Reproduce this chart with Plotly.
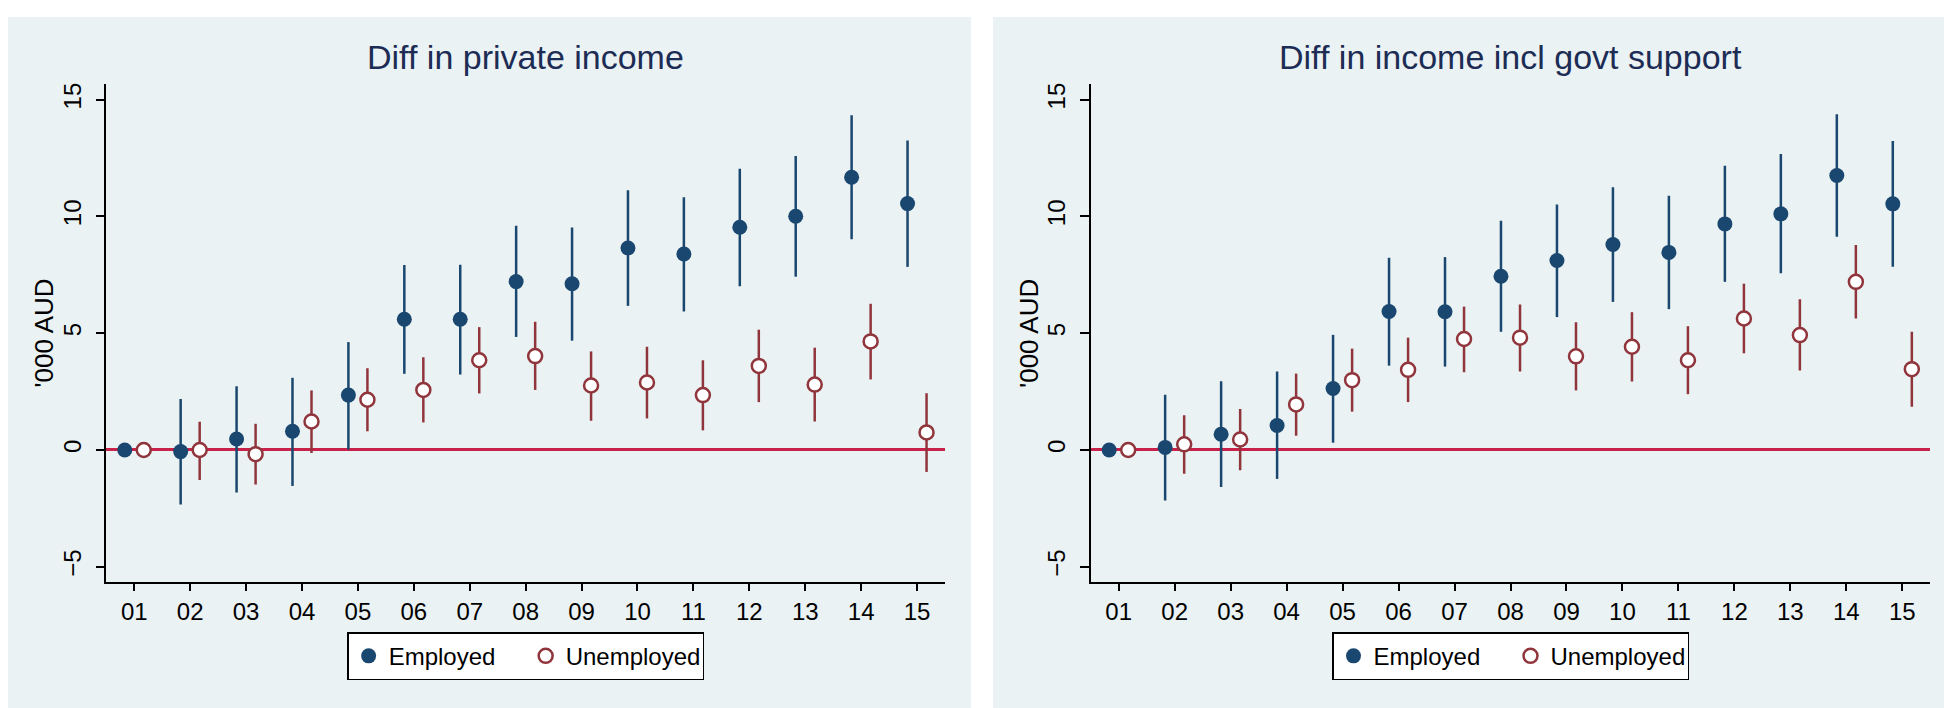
import plotly.graph_objects as go

# survey wave labels
waves = ["01", "02", "03", "04", "05", "06", "07", "08", "09", "10", "11", "12", "13", "14", "15"]

# Panel 1: Diff in private income ('000 AUD)
priv_emp = [0.0, -0.07, 0.47, 0.80, 2.35, 5.60, 5.60, 7.21, 7.12, 8.65, 8.39, 9.54, 10.01, 11.68, 10.55]
priv_emp_lo = [0.0, -2.33, -1.82, -1.54, 0.02, 3.26, 3.23, 4.84, 4.68, 6.17, 5.93, 7.01, 7.42, 9.02, 7.84]
priv_emp_hi = [0.0, 2.18, 2.73, 3.09, 4.62, 7.92, 7.93, 9.60, 9.53, 11.12, 10.82, 12.04, 12.59, 14.33, 13.25]
priv_unemp = [0.0, 0.0, -0.18, 1.22, 2.15, 2.57, 3.84, 4.02, 2.76, 2.89, 2.35, 3.60, 2.80, 4.65, 0.75]
priv_unemp_lo = [0.0, -1.29, -1.48, -0.13, 0.80, 1.18, 2.42, 2.57, 1.25, 1.35, 0.84, 2.05, 1.22, 3.02, -0.94]
priv_unemp_hi = [0.0, 1.21, 1.12, 2.55, 3.50, 3.97, 5.26, 5.49, 4.22, 4.42, 3.84, 5.15, 4.38, 6.26, 2.43]

# Panel 2: Diff in income incl govt support ('000 AUD)
tot_emp = [0.0, 0.11, 0.67, 1.05, 2.63, 5.93, 5.92, 7.44, 8.11, 8.80, 8.46, 9.68, 10.11, 11.75, 10.54]
tot_emp_lo = [0.0, -2.16, -1.59, -1.24, 0.31, 3.61, 3.57, 5.06, 5.69, 6.34, 6.03, 7.20, 7.57, 9.13, 7.85]
tot_emp_hi = [0.0, 2.36, 2.94, 3.36, 4.93, 8.23, 8.26, 9.81, 10.51, 11.25, 10.89, 12.17, 12.67, 14.38, 13.23]
tot_unemp = [0.0, 0.24, 0.45, 1.95, 2.99, 3.43, 4.75, 4.81, 4.01, 4.42, 3.84, 5.63, 4.92, 7.20, 3.46]
tot_unemp_lo = [0.0, -1.02, -0.87, 0.61, 1.64, 2.05, 3.33, 3.36, 2.55, 2.93, 2.39, 4.14, 3.40, 5.63, 1.85]
tot_unemp_hi = [0.0, 1.49, 1.75, 3.27, 4.34, 4.81, 6.14, 6.23, 5.47, 5.90, 5.30, 7.12, 6.45, 8.78, 5.06]

titles = ["Diff in private income", "Diff in income incl govt support"]
ytitle = "'000 AUD"

NAVY = "#1a476f"
MAROON = "#90353b"
BG = "#eaf2f3"
ZERO = "#c8224a"
FONT = "Liberation Sans, Arial, Helvetica, sans-serif"

W, H = 1952, 708
OFF = 0.17

xpos = list(range(1, len(waves) + 1))

# pixel layout of the two panels
x_doms = [[98.3 / W, 937 / W], [1082.7 / W, 1922.3 / W]]
y_dom = [1 - 573.3 / H, 1 - 74.7 / H]
panels = [[0, 963 / W], [985 / W, 1]]

panel_data = [
    (priv_emp, priv_emp_lo, priv_emp_hi, priv_unemp, priv_unemp_lo, priv_unemp_hi),
    (tot_emp, tot_emp_lo, tot_emp_hi, tot_unemp, tot_unemp_lo, tot_unemp_hi),
]

fig = go.Figure()

for i, (e, elo, ehi, u, ulo, uhi) in enumerate(panel_data):
    xa = "x" if i == 0 else "x2"
    ya = "y" if i == 0 else "y2"
    lg = "legend" if i == 0 else "legend2"
    fig.add_trace(go.Scatter(
        x=[p - OFF for p in xpos], y=e, xaxis=xa, yaxis=ya,
        mode="markers", name="Employed", legend=lg,
        marker=dict(symbol="circle", size=15, color=NAVY),
        error_y=dict(type="data", symmetric=False,
                     array=[h - v for h, v in zip(ehi, e)],
                     arrayminus=[v - l for v, l in zip(e, elo)],
                     width=0, thickness=2.5, color=NAVY),
    ))
    fig.add_trace(go.Scatter(
        x=[p + OFF for p in xpos], y=u, xaxis=xa, yaxis=ya,
        mode="markers", name="Unemployed", legend=lg,
        marker=dict(symbol="circle", size=14, color="white",
                    line=dict(color=MAROON, width=2.5)),
        error_y=dict(type="data", symmetric=False,
                     array=[h - v for h, v in zip(uhi, u)],
                     arrayminus=[v - l for v, l in zip(u, ulo)],
                     width=0, thickness=2.5, color=MAROON),
    ))

shapes = []
for px0, px1 in panels:
    shapes.append(dict(type="rect", xref="paper", yref="paper", x0=px0, x1=px1,
                       y0=0, y1=1 - 7 / H, fillcolor=BG, line=dict(width=0), layer="below"))

annotations = []
for i in range(2):
    cx = (x_doms[i][0] + x_doms[i][1]) / 2
    annotations.append(dict(text=titles[i], xref="paper", yref="paper", x=cx, y=1 - 47 / H,
                            xanchor="center", yanchor="middle", showarrow=False,
                            font=dict(family=FONT, size=34, color="#1d2c54")))
    annotations.append(dict(text=ytitle, xref="paper", yref="paper",
                            x=x_doms[i][0] - 62 / W, y=(y_dom[0] + y_dom[1]) / 2,
                            xanchor="center", yanchor="middle", textangle=-90, showarrow=False,
                            font=dict(family=FONT, size=26, color="black")))

axis_common = dict(showline=True, linecolor="black", linewidth=1.5, ticks="outside",
                   tickcolor="black", tickwidth=1.5,
                   tickfont=dict(family=FONT, size=24, color="black"))

layout = dict(
    width=W, height=H, margin=dict(l=0, r=0, t=0, b=0),
    paper_bgcolor="white", plot_bgcolor="white",
    shapes=shapes, annotations=annotations,
)

for i in range(2):
    sfx = "" if i == 0 else "2"
    layout["xaxis" + sfx] = dict(
        axis_common, domain=x_doms[i], range=[0.5, 15.5], tickvals=xpos, ticktext=waves,
        showgrid=False, zeroline=False, ticklen=8, anchor="y" + sfx,
    )
    layout["yaxis" + sfx] = dict(
        axis_common, domain=y_dom, range=[-5.64, 15.65], tickvals=[-5, 0, 5, 10, 15],
        tickangle=-90, showgrid=True, gridcolor=BG, gridwidth=2, ticklen=9,
        zeroline=True, zerolinecolor=ZERO, zerolinewidth=3,
        ticklabelstandoff=5, anchor="x" + sfx,
    )
    cx = (x_doms[i][0] + x_doms[i][1]) / 2
    layout["legend" + sfx] = dict(
        orientation="h", x=cx, xanchor="center", y=1 - 624 / H, yanchor="top",
        bgcolor="white", bordercolor="black", borderwidth=1.5,
        font=dict(family=FONT, size=24, color="black"), itemwidth=30,
        entrywidth=132, tracegroupgap=0,
    )

fig.update_layout(**layout)

fig.write_html("out.html")
